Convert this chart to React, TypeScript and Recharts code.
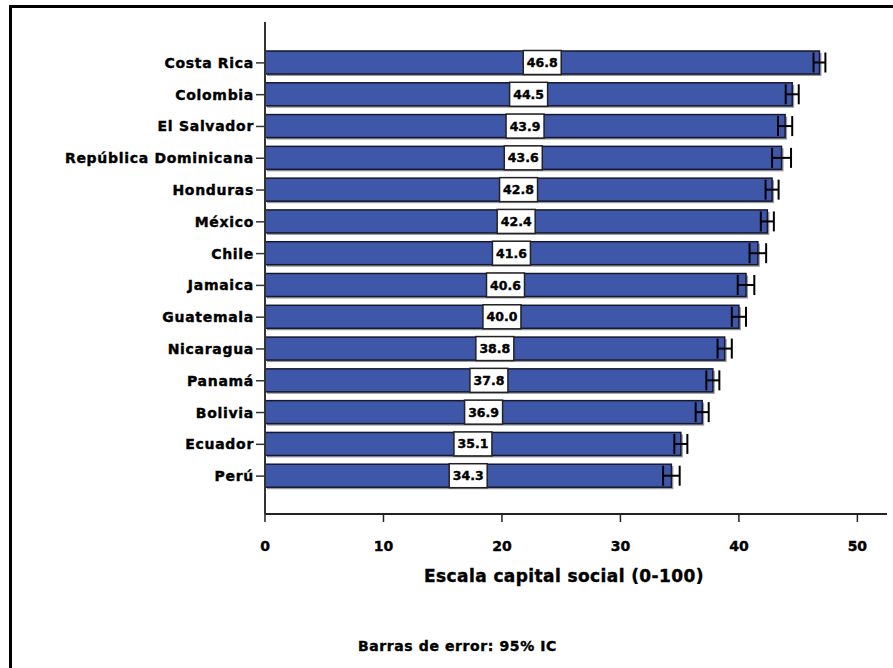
import { BarChart, Bar, XAxis, YAxis, ErrorBar, LabelList } from "recharts";

const countries = [
  "Costa Rica",
  "Colombia",
  "El Salvador",
  "República Dominicana",
  "Honduras",
  "México",
  "Chile",
  "Jamaica",
  "Guatemala",
  "Nicaragua",
  "Panamá",
  "Bolivia",
  "Ecuador",
  "Perú",
];
const scores = [46.8, 44.5, 43.9, 43.6, 42.8, 42.4, 41.6, 40.6, 40.0, 38.8, 37.8, 36.9, 35.1, 34.3];
const ci95 = [0.5, 0.55, 0.6, 0.8, 0.55, 0.55, 0.7, 0.7, 0.6, 0.6, 0.55, 0.55, 0.55, 0.7];
const xTicks = [0, 10, 20, 30, 40, 50];

const chartData = countries.map((name, i) => ({ name, score: scores[i], ci: ci95[i] }));

const FONT = "'DejaVu Sans', Arial, sans-serif";
// heavier look, the original uses a black-weight face
const heavy = { fill: "#000", stroke: "#000", strokeWidth: 0.4, fontFamily: FONT, fontWeight: "bold" as const };

function ShadowBar(props: any) {
  const { x, y, width, height } = props;
  return (
    <g>
      <rect x={x + 2} y={y + 2} width={width} height={height} fill="#9a9a9a" />
      <rect x={x} y={y} width={width} height={height} fill="#3F57A9" stroke="#15182e" strokeWidth={1.5} />
    </g>
  );
}

function ValueBox(props: any) {
  const { x, y, width, height, value } = props;
  const cx = x + width / 2;
  const cy = y + height / 2;
  return (
    <g>
      <rect x={cx - 19} y={cy - 12} width={38} height={24} fill="#fff" stroke="#222" strokeWidth={1.5} />
      <text
        x={cx}
        y={cy}
        textAnchor="middle"
        dominantBaseline="central"
        fontSize={12.5}
        {...heavy}
      >
        {Number(value).toFixed(1)}
      </text>
    </g>
  );
}

export default function App() {
  return (
    <div
      style={{
        position: "absolute",
        left: 0,
        top: 0,
        width: 893,
        height: 668,
        overflow: "hidden",
        background: "#fff",
      }}
    >
      <div
        style={{
          position: "absolute",
          left: 9,
          top: 5,
          width: 900,
          height: 700,
          border: "3px solid #000",
        }}
      />
      <div style={{ position: "absolute", left: 0, top: 0 }}>
        <BarChart
          width={893}
          height={668}
          data={chartData}
          layout="vertical"
          margin={{ top: 22, right: 6, bottom: 74, left: 0 }}
        >
          <XAxis
            type="number"
            domain={[0, 52.5]}
            ticks={xTicks}
            tickSize={8}
            tickMargin={19}
            height={80}
            axisLine={{ stroke: "#222", strokeWidth: 2 }}
            tickLine={{ stroke: "#222", strokeWidth: 1.5 }}
            tick={{ ...heavy, fontSize: 14 }}
            label={{
              value: "Escala capital social (0-100)",
              position: "insideTop",
              offset: 56,
              dx: -12,
              style: { ...heavy, fontSize: 17, letterSpacing: 0.4 },
            }}
          />
          <YAxis
            type="category"
            dataKey="name"
            width={265}
            tickSize={9}
            tickMargin={2}
            padding={{ top: 25, bottom: 22 }}
            axisLine={{ stroke: "#333", strokeWidth: 2 }}
            tickLine={{ stroke: "#333", strokeWidth: 1.5 }}
            tick={{ ...heavy, fontSize: 14, letterSpacing: 0.7 }}
            interval={0}
          />
          <Bar dataKey="score" barSize={23} shape={ShadowBar} isAnimationActive={false}>
            <ErrorBar dataKey="ci" direction="x" width={10} stroke="#000" strokeWidth={2} />
            <LabelList dataKey="score" content={ValueBox} />
          </Bar>
        </BarChart>
      </div>
      <div
        style={{
          position: "absolute",
          left: 358,
          top: 638,
          fontFamily: FONT,
          fontWeight: "bold",
          fontSize: 14,
          letterSpacing: 0.6,
          WebkitTextStroke: "0.4px #000",
          color: "#000",
        }}
      >
        Barras de error: 95% IC
      </div>
    </div>
  );
}
